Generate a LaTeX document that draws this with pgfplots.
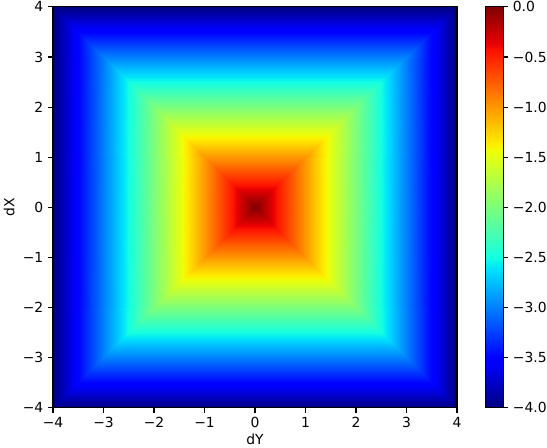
\documentclass[border=0pt]{standalone}
\usepackage{pgfplots}
\pgfplotsset{compat=1.18}
\usepackage{fontspec}
\setmainfont{DejaVu Sans}
\pgfplotsset{
  colormap={mpljet}{
    rgb(0pt)=(0,0,0.5)
    rgb(11pt)=(0,0,1)
    rgb(12.5pt)=(0,0,1)
    rgb(34pt)=(0,0.86,1)
    rgb(35pt)=(0,0.9,0.968)
    rgb(37.5pt)=(0.081,1,0.887)
    rgb(64pt)=(0.935,1,0.032)
    rgb(65pt)=(0.968,0.963,0)
    rgb(66pt)=(1,0.926,0)
    rgb(89pt)=(1,0.074,0)
    rgb(91pt)=(0.909,0,0)
    rgb(100pt)=(0.5,0,0)
  }
}
\begin{document}
\begin{tikzpicture}
\begin{axis}[
  name=main,
  scale only axis,
  width=290.9pt, height=288.7pt,
  xmin=-4, xmax=4, ymin=-4, ymax=4,
  colormap name=mpljet,
  point meta min=-4, point meta max=0,
  xtick={-4,-3,-2,-1,0,1,2,3,4},
  xticklabels={−4,−3,−2,−1,0,1,2,3,4},
  ytick={-4,-3,-2,-1,0,1,2,3,4},
  yticklabels={−4,−3,−2,−1,0,1,2,3,4},
  tick align=outside,
  major tick length=3.5pt,
  xtick pos=bottom, ytick pos=left,
  tick style={black, line width=0.8pt},
  axis line style={line width=0.8pt},
  tick label style={font=\fontsize{10}{12}\selectfont},
  label style={font=\fontsize{10}{12}\selectfont},
  xlabel={dY}, ylabel={dX},
  xlabel style={yshift=2.4pt},
  ylabel style={yshift=-1pt},
  axis on top,
  colorbar,
  colorbar shift/.style={xshift=0pt},
  colorbar style={
    at={(parent axis.north east)}, anchor=north west,
    xshift=20.2pt,
    width=13pt,
    ytick={-4,-3.5,-3,-2.5,-2,-1.5,-1,-0.5,0},
    yticklabels={−4.0,−3.5,−3.0,−2.5,−2.0,−1.5,−1.0,−0.5,0.0},
    tick align=outside,
    major tick length=3.5pt,
    ytick pos=right,
    tick style={black, line width=0.8pt},
    axis line style={line width=0.8pt},
    tick label style={font=\fontsize{10}{12}\selectfont},
  },
]
\addplot[patch, patch type=triangle, shader=interp] table[point meta=\thisrow{c}] {
x y c
0 0 0
4 -4 -4
4 4 -4
0 0 0
4 4 -4
-4 4 -4
0 0 0
-4 4 -4
-4 -4 -4
0 0 0
-4 -4 -4
4 -4 -4
};
\end{axis}
\pgfresetboundingbox
\path ([xshift=-38.2pt,yshift=-28.8pt]main.south west) rectangle ([xshift=355.7pt,yshift=5pt]main.north west);
\end{tikzpicture}
\end{document}
